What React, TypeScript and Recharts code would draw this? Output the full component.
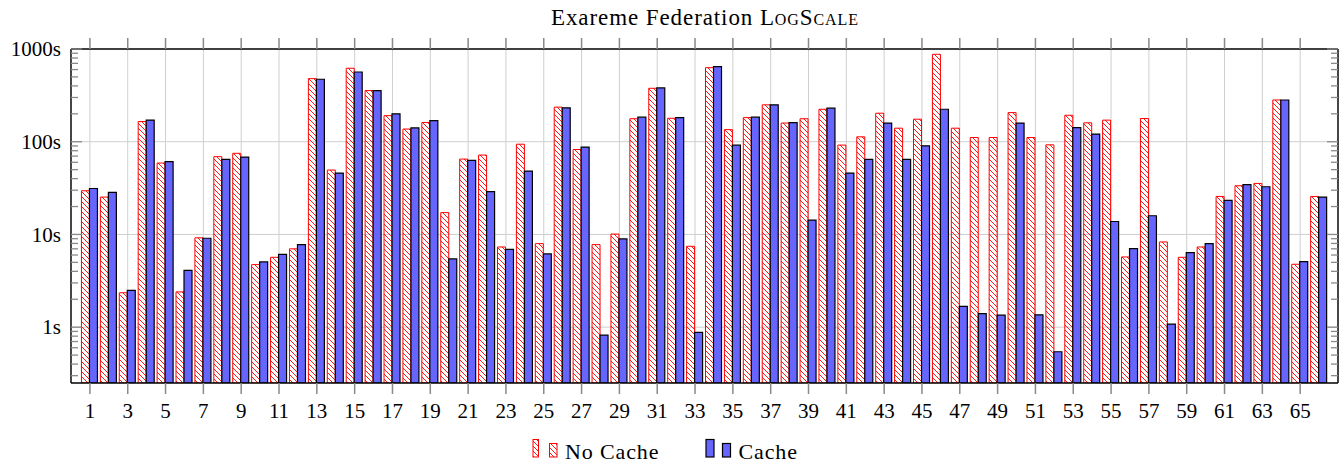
import React from 'react';
import { BarChart, Bar, XAxis, YAxis, CartesianGrid, Legend } from 'recharts';

const categories = [
  1, 2, 3, 4, 5, 6, 7, 8, 9, 10, 11, 12, 13, 14, 15, 16, 17, 18, 19, 20, 21, 22,
  23, 24, 25, 26, 27, 28, 29, 30, 31, 32, 33, 34, 35, 36, 37, 38, 39, 40, 41, 42, 43,
  44, 45, 46, 47, 48, 49, 50, 51, 52, 53, 54, 55, 56, 57, 58, 59, 60, 61, 62, 63, 64,
  65, 66,
];

const noCache = [
  29.6, 25.3, 2.35, 165, 58.9, 2.4, 9.2, 69, 75, 4.73, 5.67, 7.0, 479, 49.5, 620, 356,
  191, 137, 161, 17.2, 65, 71.8, 7.33, 94, 7.96, 236, 82.4, 7.77, 10.1, 177, 377, 179,
  7.45, 629, 135, 182, 250, 159, 177, 224, 92, 113, 203, 140, 175, 877, 140, 111, 111,
  206, 111, 92.6, 193, 160, 171, 5.72, 178, 8.3, 5.67, 7.33, 25.7, 33.5, 35.5, 282,
  4.77, 25.7,
];

const cache = [
  31.3, 28.4, 2.5, 171, 61, 4.1, 9.1, 64.4, 68.3, 5.06, 6.1, 7.77, 472, 45.9, 565, 356,
  200, 141, 169, 5.45, 62.8, 28.9, 6.92, 48.3, 6.17, 232, 87.5, 0.82, 8.95, 184, 380,
  182, 0.877, 645, 91.9, 184, 250, 161, 14.3, 230, 45.9, 64.4, 159, 64.4, 90.3, 224,
  1.68, 1.4, 1.35, 159, 1.36, 0.543, 142, 121, 13.8, 7.03, 15.9, 1.08, 6.37, 7.96, 23.3,
  34.4, 32.7, 282, 5.1, 25.3,
];

const xTicks = [
  1, 3, 5, 7, 9, 11, 13, 15, 17, 19, 21, 23, 25, 27, 29, 31, 33, 35, 37, 39, 41, 43, 45,
  47, 49, 51, 53, 55, 57, 59, 61, 63, 65,
];
const xDomain = [0, 67];

const yMajorTicks = [1, 10, 100, 1000];
const yAllTicks = [
  0.3, 0.4, 0.5, 0.6, 0.7, 0.8, 0.9, 1, 2, 3, 4, 5, 6, 7, 8, 9, 10, 20, 30, 40, 50, 60,
  70, 80, 90, 100, 200, 300, 400, 500, 600, 700, 800, 900, 1000,
];
const yDomain = [0.25, 1000];
const gridYValues = [1, 10, 100];

const TITLE = 'Exareme Federation ';
const TITLE_SC = 'LogScale';
const SERIES_NAMES = ['No Cache', 'Cache'];

const data = categories.map((n, i) => ({ n, noCache: noCache[i], cache: cache[i] }));

const FONT = "'Liberation Serif', 'Times New Roman', serif";
const TICK_GRAY = '#8a8a8a';
const BLUE = '#6666ff';

const YTick = (props: any) => {
  const { x, y, payload, side } = props;
  const v = payload.value;
  const major = yMajorTicks.includes(v);
  const len = major ? 11 : 7;
  const dir = side === 'left' ? 1 : -1;
  return (
    <g>
      <line x1={x} x2={x + dir * len} y1={y} y2={y} stroke={TICK_GRAY} strokeWidth={1.3} />
      {side === 'left' && major ? (
        <text
          x={x - 10}
          y={y}
          dy="0.34em"
          textAnchor="end"
          fontFamily={FONT}
          fontSize={21}
          fill="#000"
        >
          {`${v}s`}
        </text>
      ) : null}
    </g>
  );
};

const EmptyTick = () => <g />;

const HatchPattern = ({ id }: { id: string }) => (
  <pattern id={id} patternUnits="userSpaceOnUse" width={5} height={5}>
    <path
      d="M-1,-1 L6,6 M-1,4 L1,6 M4,-1 L6,1"
      stroke="#ff0000"
      strokeWidth={0.9}
      fill="none"
    />
  </pattern>
);

const LegendContent = () => (
  <svg width={1339} height={34} style={{ display: 'block', overflow: 'visible' }}>
    <defs>
      <HatchPattern id="hatchLegend" />
    </defs>
    <rect x={533} y={11.5} width={5.5} height={17.5} fill="url(#hatchLegend)" stroke="#ff0000" strokeWidth={1} />
    <rect x={549.5} y={15.5} width={7.5} height={13.5} fill="url(#hatchLegend)" stroke="#ff0000" strokeWidth={1} />
    <text x={565} y={30.5} fontFamily={FONT} fontSize={22} fill="#000" textLength={93.5} lengthAdjust="spacing">
      {SERIES_NAMES[0]}
    </text>
    <rect x={706} y={11.5} width={8} height={17.5} fill={BLUE} stroke="#000" strokeWidth={1.2} />
    <rect x={722.5} y={15.5} width={8} height={13.5} fill={BLUE} stroke="#000" strokeWidth={1.2} />
    <text x={738.5} y={30.5} fontFamily={FONT} fontSize={22} fill="#000" textLength={58.5} lengthAdjust="spacing">
      {SERIES_NAMES[1]}
    </text>
  </svg>
);

export default function App() {
  return (
    <div style={{ position: 'absolute', left: 0, top: 0, width: 1339, height: 462, background: '#fff' }}>
      <BarChart
        width={1339}
        height={462}
        data={data}
        margin={{ top: 0, right: 0, bottom: 0, left: 0 }}
        barSize={8}
        barGap={0}
      >
        <defs>
          <HatchPattern id="hatchBar" />
        </defs>
        <text
          x={704.5}
          y={25}
          textAnchor="middle"
          fontFamily={FONT}
          fontSize={23}
          fill="#000"
          textLength={307}
          lengthAdjust="spacing"
        >
          {TITLE}
          <tspan style={{ fontVariant: 'small-caps' }}>{TITLE_SC}</tspan>
        </text>
        <CartesianGrid
          stroke="#cfcfcf"
          strokeWidth={1}
          horizontalValues={gridYValues}
        />
        <XAxis
          dataKey="n"
          type="number"
          domain={xDomain}
          ticks={xTicks}
          interval={0}
          height={79}
          tickSize={11}
          tickMargin={9}
          tickLine={{ stroke: TICK_GRAY, strokeWidth: 1.5 }}
          axisLine={{ stroke: '#000', strokeWidth: 1.4 }}
          tick={{ fill: '#000', fontSize: 21, fontFamily: FONT }}
          allowDataOverflow
        />
        <XAxis
          xAxisId="top"
          orientation="top"
          dataKey="n"
          type="number"
          domain={xDomain}
          ticks={xTicks}
          interval={0}
          height={49}
          tickSize={11}
          tickLine={{ stroke: TICK_GRAY, strokeWidth: 1.5 }}
          axisLine={{ stroke: '#000', strokeWidth: 1.4 }}
          tick={<EmptyTick />}
          allowDataOverflow
        />
        <YAxis
          type="number"
          scale="log"
          domain={yDomain}
          ticks={yAllTicks}
          interval={0}
          width={71}
          tickSize={0}
          tickMargin={0}
          tickLine={false}
          axisLine={{ stroke: '#000', strokeWidth: 1.4 }}
          tick={<YTick side="left" />}
          allowDataOverflow
        />
        <YAxis
          yAxisId="right"
          orientation="right"
          type="number"
          scale="log"
          domain={yDomain}
          ticks={yAllTicks}
          interval={0}
          width={1}
          tickSize={0}
          tickMargin={0}
          tickLine={false}
          axisLine={{ stroke: '#000', strokeWidth: 1.4 }}
          tick={<YTick side="right" />}
          allowDataOverflow
        />
        <Bar
          dataKey="noCache"
          name={SERIES_NAMES[0]}
          fill="url(#hatchBar)"
          stroke="#ff0000"
          strokeWidth={1}
          isAnimationActive={false}
        />
        <Bar
          dataKey="cache"
          name={SERIES_NAMES[1]}
          fill={BLUE}
          stroke="#000"
          strokeWidth={1.2}
          isAnimationActive={false}
        />
        <Legend
          layout="horizontal"
          verticalAlign="middle"
          align="center"
          content={<LegendContent />}
          wrapperStyle={{ position: 'absolute', top: 428, left: 0, width: 1339, height: 34 }}
        />
      </BarChart>
    </div>
  );
}
